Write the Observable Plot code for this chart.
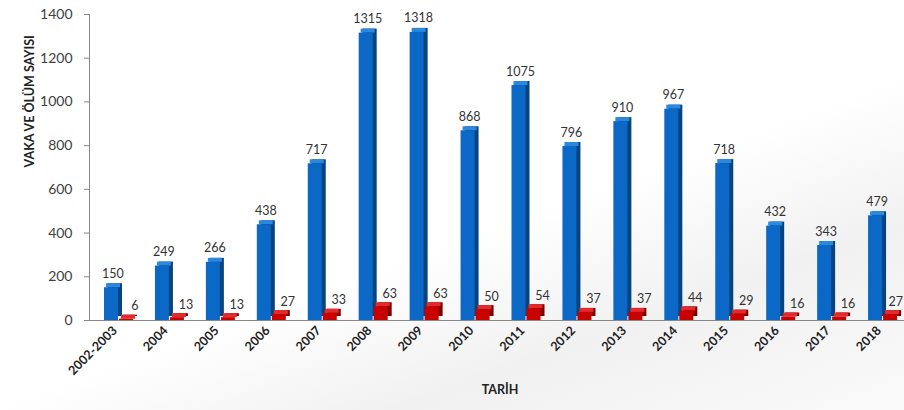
<!DOCTYPE html>
<html>
<head>
<meta charset="utf-8">
<script src="https://cdn.jsdelivr.net/npm/d3@7"></script>
<script src="https://cdn.jsdelivr.net/npm/@observablehq/plot@0.6"></script>
<style>
  html, body { margin: 0; padding: 0; }
  body { width: 904px; height: 410px; overflow: hidden;
    background: linear-gradient(160deg, #ffffff 0%, #ffffff 55%, #f1f1f1 75%, #fafafa 100%); }
  #chart svg { display: block; background: transparent; }
</style>
</head>
<body>
<div id="chart"></div>
<script>
const years = ["2002-2003","2004","2005","2006","2007","2008","2009","2010","2011","2012","2013","2014","2015","2016","2017","2018"];
const cases = [150,249,266,438,717,1315,1318,868,1075,796,910,967,718,432,343,479];
const deaths = [6,13,13,27,33,63,63,50,54,37,37,44,29,16,16,27];
const yTicks = [0,200,400,600,800,1000,1200,1400];

const data = years.map((y, i) => ({year: y, cases: cases[i], deaths: deaths[i]}));
const lastYear = years[years.length - 1];

const W = 904, H = 410, mL = 89, mR = 0, mT = 14, mB = 90;
const bw = (W - mL - mR) / years.length;
const depth = 4;

function bar3d(field, left, width, front, top, side) {
  const right = bw - left - width;
  return [
    Plot.barY(data, {x: "year", y: field, fill: side,
      insetLeft: left + depth, insetRight: right - depth, dy: -depth}),
    Plot.barY(data, {x: "year", y1: field, y2: field, fill: top,
      insetLeft: left + depth / 2, insetRight: right - depth / 2, insetTop: -depth}),
    Plot.barY(data, {x: "year", y: field, fill: front,
      insetLeft: left, insetRight: right})
  ];
}

const chart = Plot.plot({
  width: W, height: H,
  marginLeft: mL, marginRight: mR, marginTop: mT, marginBottom: mB,
  style: {fontFamily: "Lato, 'Open Sans', sans-serif", background: "transparent"},
  x: {domain: years, padding: 0, round: false, label: null},
  y: {domain: [0, 1400], label: null},
  marks: [
    Plot.axisY({ticks: yTicks, tickFormat: d => String(d), tickSize: 5, tickPadding: 12, fontSize: 14, fill: "#404040", stroke: "#888", label: null}),
    Plot.axisX({tickSize: 0, tickPadding: 8, tickRotate: -45, fontSize: 12.5, fontWeight: "bold", fill: "#222", label: null}),
    Plot.frame({anchor: "left", stroke: "#888"}),
    ...bar3d("cases", 15, 14, "#0b68c6", "#2c88dd", "#064480"),
    ...bar3d("deaths", 30, 14, "#c80000", "#e42a2a", "#7d0000"),
    Plot.ruleY([0], {stroke: "#888", strokeWidth: 1.2}),
    Plot.text(data, {x: "year", y: "cases", text: d => String(d.cases), dx: -2, dy: -10,
      lineAnchor: "bottom", fontSize: 12.5, fill: "#333"}),
    Plot.text(data.filter(d => d.year !== lastYear), {x: "year", y: "deaths", text: d => String(d.deaths), dx: 20, dy: -9,
      lineAnchor: "bottom", fontSize: 12.5, fill: "#333"}),
    Plot.text(data.filter(d => d.year === lastYear), {x: "year", y: "deaths", text: d => String(d.deaths), dx: 24, dy: -9,
      textAnchor: "end", lineAnchor: "bottom", fontSize: 12.5, fill: "#333"}),
    Plot.text(["VAKA VE ÖLÜM SAYISI"], {frameAnchor: "left", dx: -60, rotate: -90,
      fontSize: 12.5, fontWeight: "bold", fill: "#222"}),
    Plot.text(["TARİH"], {frameAnchor: "bottom", dy: 73, dx: 3,
      fontSize: 12.5, fontWeight: "bold", fill: "#222"})
  ]
});
document.getElementById("chart").appendChild(chart);
</script>
</body>
</html>
